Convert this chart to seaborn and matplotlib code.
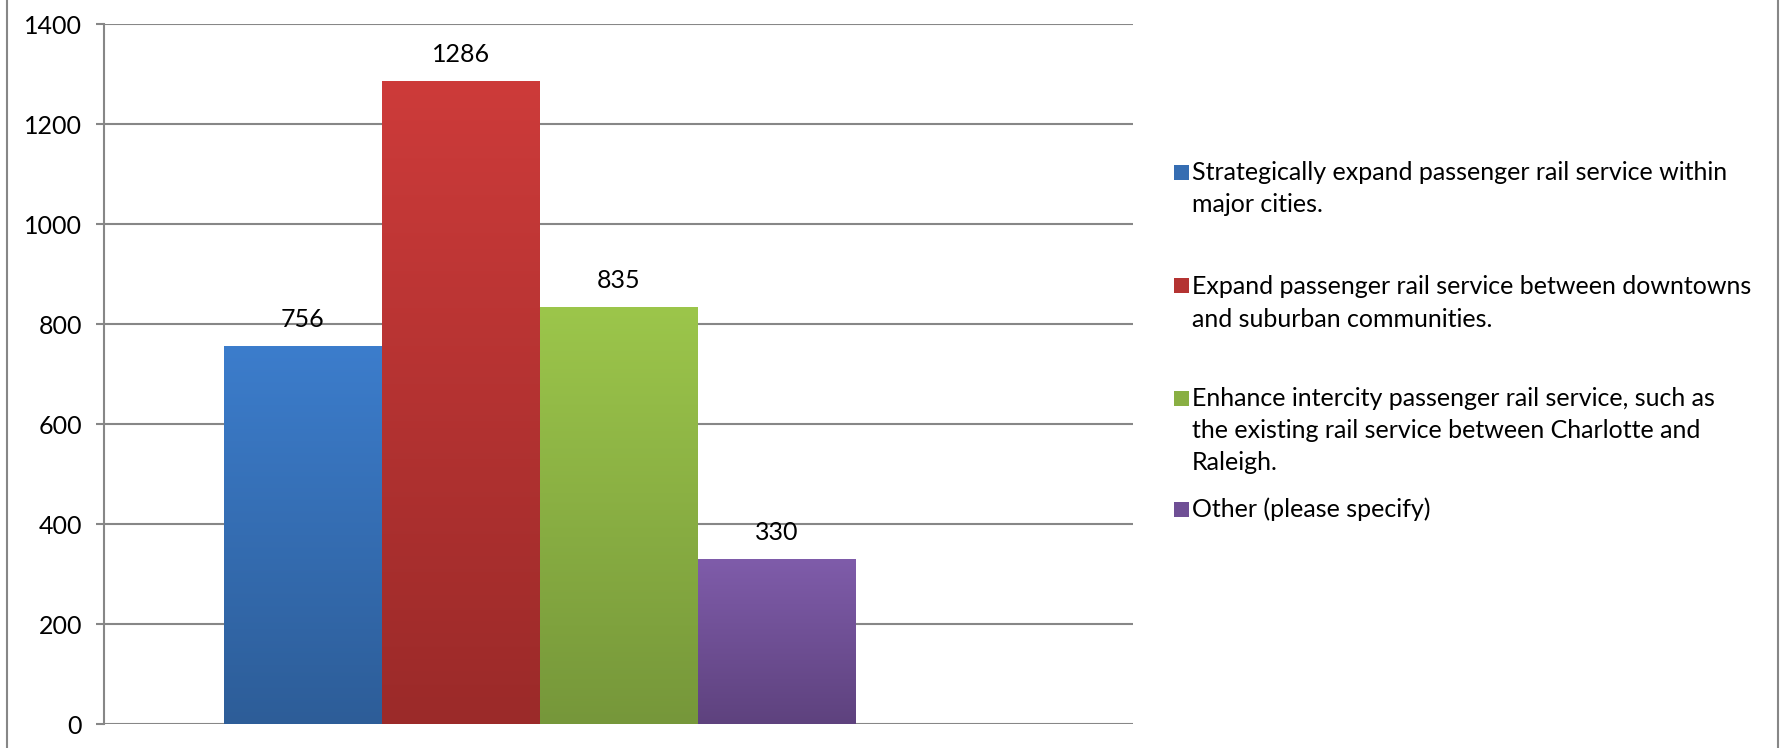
import numpy as np
import pandas as pd
import matplotlib
matplotlib.use("Agg")
import matplotlib.pyplot as plt
from matplotlib.colors import LinearSegmentedColormap
from matplotlib.patches import Rectangle
from matplotlib.lines import Line2D
import seaborn as sns

categories = [
    "Strategically expand passenger rail service within major cities.",
    "Expand passenger rail service between downtowns and suburban communities.",
    "Enhance intercity passenger rail service, such as the existing rail service between Charlotte and Raleigh.",
    "Other (please specify)",
]
legend_lines = [
    ["Strategically expand passenger rail service within", "major cities."],
    ["Expand passenger rail service between downtowns", "and suburban communities."],
    ["Enhance intercity passenger rail service, such as",
     "the existing rail service between Charlotte and", "Raleigh."],
    ["Other (please specify)"],
]
values = [756, 1286, 835, 330]
y_ticks = [0, 200, 400, 600, 800, 1000, 1200, 1400]

top_colors = ["#3C7DCC", "#CD3B3A", "#9CC64B", "#7F5CAA"]
bottom_colors = ["#2D5D98", "#9B2A29", "#76973A", "#5E427E"]
mid_colors = ["#356DB2", "#B43332", "#89AF43", "#6F4F95"]

W, H = 1786, 748
sns.set_theme(style="white")
plt.rcParams['font.family'] = ['Lato', 'DejaVu Sans']
fig = plt.figure(figsize=(W / 100, H / 100), dpi=100)
ax = fig.add_axes([104 / W, 1 - 724 / H, (1133 - 104) / W, 700 / H])

df = pd.DataFrame({"cat": categories, "val": values})
sns.barplot(data=df, x="cat", y="val", hue="cat", palette=mid_colors,
            width=1.0, dodge=False, legend=False, ax=ax, saturation=1)

# gradient fills clipped to bars
for i, patch in enumerate(ax.patches):
    x0, y0 = patch.get_x(), patch.get_y()
    w, h = patch.get_width(), patch.get_height()
    cmap = LinearSegmentedColormap.from_list("g", [bottom_colors[i], top_colors[i]])
    grad = np.linspace(0, 1, 256).reshape(-1, 1)
    im = ax.imshow(grad, cmap=cmap, origin="lower", aspect="auto",
                   extent=(x0, x0 + w, y0, y0 + h), zorder=patch.get_zorder() + 0.1)
    im.set_clip_path(patch)
    patch.set_edgecolor("none")
ax.set_xlim(-0.5 - 120 / 158, 3.5 + 277 / 158)
ax.set_ylim(0, 1400)

# value labels
for i, v in enumerate(values):
    ax.annotate(str(v), xy=(i, v), xytext=(0, 19), textcoords="offset points",
                ha="center", va="center", fontsize=18, color="#000000")

grid_c = "#878787"
ax.set_yticks(y_ticks)
ax.set_yticklabels([str(t) for t in y_ticks], fontsize=18, color="#000000")
ax.yaxis.grid(True, color=grid_c, linewidth=1.5)
ax.set_axisbelow(True)
ax.tick_params(axis="y", which="major", length=5.8, width=1.5, color=grid_c,
               direction="out", pad=10, left=True)
ax.set_xticks([])
ax.set_xlabel("")
ax.set_ylabel("")
for s in ["top", "right", "bottom"]:
    ax.spines[s].set_visible(False)
ax.spines["left"].set_color(grid_c)
ax.spines["left"].set_linewidth(1.5)

# legend, placed like the reference
entry_y = [[172, 205], [286, 319], [398, 430, 462], [509]]
for i, lines in enumerate(legend_lines):
    yc = entry_y[i][0]
    fig.patches.append(Rectangle((1174 / W, 1 - (yc + 7.5) / H), 15 / W, 15 / H,
                                 transform=fig.transFigure, facecolor=mid_colors[i],
                                 edgecolor="none"))
    for line, yy in zip(lines, entry_y[i]):
        fig.text(1192 / W, 1 - yy / H, line, ha="left", va="center",
                 fontsize=18, color="#000000")

# outer chart border (vertical edges)
for xx in [7, 1778]:
    fig.lines.append(Line2D([xx / W, xx / W], [0, 1], transform=fig.transFigure,
                            color=grid_c, linewidth=1.5))

fig.savefig("out.png", dpi=100)
